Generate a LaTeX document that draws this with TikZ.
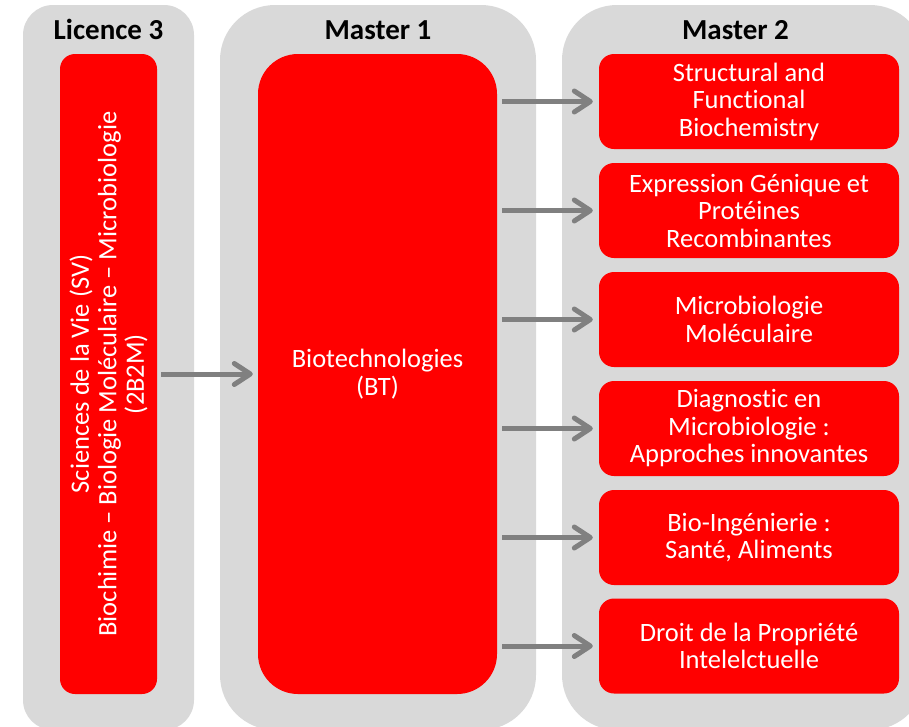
\documentclass[tikz,border=0pt]{standalone}
\usepackage{fontspec}
\setmainfont[Ligatures={NoCommon,NoRare}]{Carlito}
\usetikzlibrary{arrows.meta}
\definecolor{panelgrey}{HTML}{D9D9D9}
\definecolor{boxred}{HTML}{FF0000}
\definecolor{arrowgrey}{HTML}{808080}
\begin{document}
\begin{tikzpicture}[x=1pt,y=-1pt,
  panel/.style={fill=panelgrey},
  redbox/.style={fill=boxred, draw=none, inner sep=0pt, text=white, align=center,
    font=\fontsize{26.5pt}{27.5pt}\selectfont},
  mtwo/.style={redbox, minimum width=300pt, minimum height=95pt, rounded corners=15pt},
  heading/.style={font=\fontsize{29pt}{30pt}\selectfont\bfseries, anchor=base, inner sep=0pt},
  conn/.style={draw=arrowgrey, line width=5pt, -{Straight Barb[length=16pt,width=21pt,round]}}]
\useasboundingbox (0,0) rectangle (909,726);
\clip (0,0) rectangle (909,726);
% panels
\fill[panel, rounded corners=30pt] (23,5) rectangle (194,730);
\fill[panel, rounded corners=55pt] (220,5) rectangle (536,730);
\fill[panel, rounded corners=55pt] (562,5) rectangle (925,730);
% headings
\node[heading] (h1) at (108.5,39) {Licence 3};
\node[heading] (h2) at (378,39) {Master 1};
\node[heading] (h3) at (735.5,39) {Master 2};
% Licence 3 box
\node[redbox, minimum width=97pt, minimum height=640pt, rounded corners=15pt] (l3) at (108.5,374) {};
\node[rotate=90, text=white, align=center, inner sep=0pt,
  font=\fontsize{26.5pt}{27.5pt}\selectfont] (l3t) at (l3.center)
  {Sciences de la Vie (SV)\\Biochimie – Biologie Moléculaire – Microbiologie\\(2B2M)};
% Master 1 box
\node[redbox, minimum width=239pt, minimum height=640pt, rounded corners=40pt] (m1) at (377.5,374) {Biotechnologies\\(BT)};
% Master 2 boxes
\node[mtwo] (b1) at (749,101.5) {Structural and\\Functional\\Biochemistry};
\node[mtwo] (b2) at (749,210.5) {Expression Génique et\\Protéines\\Recombinantes};
\node[mtwo] (b3) at (749,319.5) {Microbiologie\\Moléculaire};
\node[mtwo] (b4) at (749,428.5) {Diagnostic en\\Microbiologie :\\Approches innovantes};
\node[mtwo] (b5) at (749,537.5) {Bio-Ingénierie :\\Santé, Aliments};
\node[mtwo] (b6) at (749,646) {Droit de la Propriété\\Intelelctuelle};
% connectors
\draw[conn, shorten <=4pt, shorten >=5pt] (l3.east) -- (m1.west);
\foreach \i in {1,...,6}
  \draw[conn, shorten <=5pt, shorten >=6pt] (m1.east |- b\i.west) -- (b\i.west);
\end{tikzpicture}
\end{document}
